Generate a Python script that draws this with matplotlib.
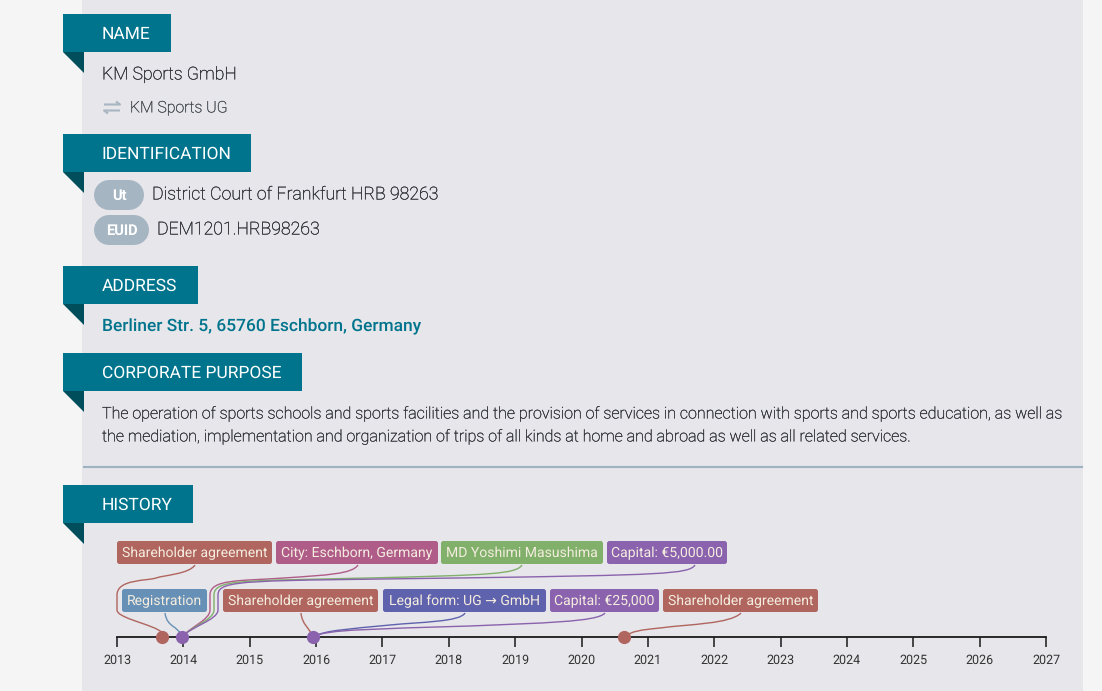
import matplotlib
matplotlib.use("Agg")
import matplotlib.pyplot as plt
import matplotlib.patheffects as pe
from matplotlib.patches import Rectangle, Polygon, FancyBboxPatch, PathPatch
from matplotlib.path import Path

plt.rcParams['font.family'] = ['Roboto', 'DejaVu Sans']
plt.rcParams['text.hinting'] = 'no_hinting'

W, H = 1102, 691
years = list(range(2013, 2028))
event_labels = ["Shareholder agreement", "Registration", "City: Eschborn, Germany", "MD Yoshimi Masushima",
                "Capital: €5,000.00", "Shareholder agreement", "Legal form: UG → GmbH", "Capital: €25,000",
                "Shareholder agreement"]
dot_dates = [2013.68, 2013.98, 2015.95, 2020.64]
dot_colors = ["#b0655e", "#8a62ad", "#8a62ad", "#b0655e"]

sections = ["NAME", "IDENTIFICATION", "ADDRESS", "CORPORATE PURPOSE", "HISTORY"]

TEAL, DARK = "#00748c", "#004d5c"
RED, PINK, GREEN, PURPLE, BLUE, INDIGO = "#b0655e", "#b05c88", "#80b06a", "#8a62ad", "#6690b5", "#5f62ad"

fig = plt.figure(figsize=(W / 100, H / 100), dpi=100, facecolor="#f5f5f6")
ax = fig.add_axes([0, 0, 1, 1], zorder=1)
ax.set_xlim(0, W); ax.set_ylim(H, 0); ax.axis("off")
ax.add_patch(Rectangle((82, 0), 1001, H, fc="#e6e6eb", ec="none"))

# timeline axes, on its own scale
ax_t = fig.add_axes([117 / W, (H - 637) / H, (1046 - 117) / W, 40 / H], zorder=3)
ax_t.set_xlim(2013, 2027); ax_t.set_ylim(0, 1); ax_t.patch.set_alpha(0)
for s in ("top", "left", "right"):
    ax_t.spines[s].set_visible(False)
ax_t.spines["bottom"].set_color("#1a1a1a"); ax_t.spines["bottom"].set_linewidth(1.3)
ax_t.set_yticks([])
ax_t.set_xticks(years)
ax_t.set_xticklabels([str(y) for y in years], fontsize=9, color="#333333")
ax_t.tick_params(axis="x", length=7.5, width=1.1, color="#1a1a1a", pad=4.5)
for d, c in zip(dot_dates, dot_colors):
    ax_t.plot([d], [0], "o", ms=9.5, color=c, clip_on=False, zorder=5, mec="none")

def dx(date):
    return 117 + (date - 2013) * (1046 - 117) / 14

# section headers
hdr = [(14, 171), (134, 251), (266, 198), (353, 302), (485, 193)]
for (y, r), s in zip(hdr, sections):
    ax.add_patch(Rectangle((63, y), r - 63, 38, fc=TEAL, ec="none"))
    ax.add_patch(Polygon([(63, y + 38), (84, y + 38), (84, y + 59)], fc=DARK, ec="none"))
    ax.text(101.5, y + 20, s, color="white", fontsize=12.5, va="center", ha="left")

tc = "#2a2a32"
thick = [pe.withStroke(linewidth=0.2, foreground=tc)]
ax.text(102, 74.5, "KM Sports GmbH", fontsize=12.7, color=tc, va="center", fontweight="light", path_effects=thick)
ax.text(130, 108, "KM Sports UG", fontsize=11.4, color="#40454c", va="center", fontweight="light",
        path_effects=[pe.withStroke(linewidth=0.2, foreground="#40454c")])
# swap icon
ax.plot([104, 120, 116], [104.5, 104.5, 101.5], color="#a8b6c2", lw=1.5, solid_capstyle="butt")
ax.plot([120, 104, 108], [110.5, 110.5, 113.5], color="#a8b6c2", lw=1.5, solid_capstyle="butt")

# pills
def pill(x0, x1, yc, h, txt, fs):
    ax.plot([x0 + h / 2, x1 - h / 2], [yc, yc], color="#a6b5c2", lw=h * 0.72, solid_capstyle="round")
    ax.text((x0 + x1) / 2, yc + 0.5, txt, color="white", fontsize=fs, fontweight="bold", ha="center", va="center")
pill(94, 144, 195, 30, "Ut", 10.5)
pill(94, 149, 230, 30, "EUID", 10.5)
ax.text(152, 194.5, "District Court of Frankfurt HRB 98263", fontsize=12.76, color=tc, va="center", fontweight="light", path_effects=thick)
ax.text(157, 229.5, "DEM1201.HRB98263", fontsize=12.76, color=tc, va="center", fontweight="light", path_effects=thick)

ax.text(102, 326.5, "Berliner Str. 5, 65760 Eschborn, Germany", fontsize=12.56, color=TEAL, va="center", fontweight="medium")
ax.text(102, 414, "The operation of sports schools and sports facilities and the provision of services in connection with sports and sports education, as well as",
        fontsize=11.57, color=tc, va="center", fontweight="light", path_effects=thick)
ax.text(102, 437, "the mediation, implementation and organization of trips of all kinds at home and abroad as well as all related services.",
        fontsize=11.57, color=tc, va="center", fontweight="light", path_effects=thick)
ax.plot([84, 1082], [467, 467], color="#9fb2c0", lw=1.5)

# connectors
def curve(pts, c):
    codes = [Path.MOVETO] + [Path.CURVE4] * (len(pts) - 1)
    ax.add_patch(PathPatch(Path(pts, codes), fc="none", ec=c, lw=1.0, zorder=2))

def upper(x, date, c, xv, yv=610):
    end = dx(date)
    curve([(x, 565), (x - 6, 574), (x - 30, 575), (x - (x - xv) * 0.5, 578),
           (xv + 30, 581), (xv, 579), (xv, 595),
           (xv, 605), (xv, 608), (xv, yv),
           (xv, 620), (end + 8, 627), (end, 637)], c)

upper(195, dot_dates[0], RED, 117)
upper(358, dot_dates[1], PINK, 210)
upper(522, dot_dates[1], GREEN, 214)
upper(695, dot_dates[1], PURPLE, 218)

e = dx(dot_dates[1])
curve([(165, 613), (167, 628), (178, 625), (e, 637)], BLUE)
e = dx(dot_dates[2])
curve([(301, 613), (302, 625), (310, 628), (e, 637)], RED)
curve([(465, 613), (460, 622), (420, 622), (390, 625), (350, 629), (325, 630), (e, 637)], INDIGO)
curve([(605, 613), (598, 622), (540, 623), (470, 626), (380, 629), (325, 629), (e, 637)], PURPLE)
e = dx(dot_dates[3])
curve([(741, 613), (730, 624), (690, 624), (660, 628), (640, 630), (632, 631), (e, 637)], RED)

# event labels
def label(x0, x1, y0, txt, c):
    ax.add_patch(FancyBboxPatch((x0, y0), x1 - x0, 23, boxstyle="round,pad=0,rounding_size=2.5",
                                fc=c, ec="none", zorder=3))
    ax.text((x0 + x1) / 2, y0 + 12, txt, color="#f4ecdf", fontsize=10.1, ha="center", va="center", zorder=4)

label(117, 272, 541, event_labels[0], RED)
label(276, 438, 541, event_labels[2], PINK)
label(441, 603, 541, event_labels[3], GREEN)
label(607, 727, 541, event_labels[4], PURPLE)
label(122, 207, 589, event_labels[1], BLUE)
label(223, 378, 589, event_labels[5], RED)
label(383, 546, 589, event_labels[6], INDIGO)
label(550, 659, 589, event_labels[7], PURPLE)
label(663, 818, 589, event_labels[8], RED)

fig.savefig("out.png", dpi=100, facecolor=fig.get_facecolor())
